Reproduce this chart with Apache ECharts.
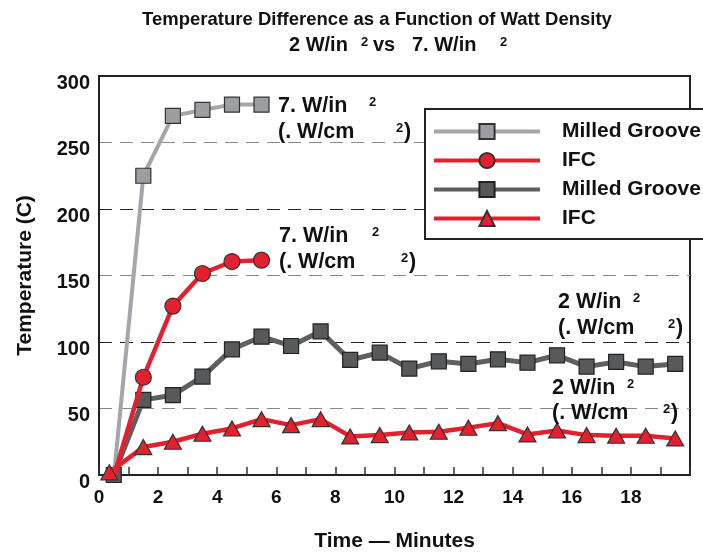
<!DOCTYPE html>
<html>
<head>
<meta charset="utf-8">
<script src="https://cdn.jsdelivr.net/npm/echarts@6/dist/echarts.min.js"></script>
<style>html,body{margin:0;padding:0;background:#fff;}#c{width:703px;height:553px;}</style>
</head>
<body>
<div id="c"></div>
<script>
// ---- data ----
var time7 = [0.5, 1.5, 2.5, 3.5, 4.5, 5.5];
var milled7 = [-2, 225, 270, 274.5, 278.5, 278.5];
var ifc7 = [-1, 73.5, 127, 151.5, 160.5, 161.5];
var time2 = [0.5, 1.5, 2.5, 3.5, 4.5, 5.5, 6.5, 7.5, 8.5, 9.5, 10.5, 11.5, 12.5, 13.5, 14.5, 15.5, 16.5, 17.5, 18.5, 19.5];
var timeIfc2 = [0.35, 1.5, 2.5, 3.5, 4.5, 5.5, 6.5, 7.5, 8.5, 9.5, 10.5, 11.5, 12.5, 13.5, 14.5, 15.5, 16.5, 17.5, 18.5, 19.5];
var milled2 = [0, 56.5, 60, 74, 94.5, 104, 97, 108, 86.5, 92, 80, 85.5, 83.5, 87, 84.5, 90, 81.5, 85, 81.5, 83.5];
var ifc2 = [2, 21, 25, 31, 35, 42, 37.5, 42, 29, 30, 32, 32.5, 35.5, 39, 30.5, 33.5, 30, 29.5, 29.5, 27.5];
var seriesNames = ['Milled Groove', 'IFC', 'Milled Groove ', 'IFC '];
var xTickLabels = [0, 2, 4, 6, 8, 10, 12, 14, 16, 18];
var titleText = 'Temperature Difference as a Function of Watt Density';
var subtitleParts = ['2 W/in', '2', 'vs', '7. W/in', '2'];
var annoLine1 = ['7. W/in', '7. W/in', '2 W/in', '2 W/in'];
var annoLine2 = '(. W/cm';

function pairs(xs, ys) { return xs.map(function (x, i) { return [x, ys[i]]; }); }

var FF = '"Liberation Sans", Arial, Helvetica, sans-serif';
function txt(x, y, text, size, align) {
  return { type: 'text', x: x, y: y, z: 100,
    style: { text: text, fill: '#111', fontSize: size, fontWeight: 'bold', fontFamily: FF,
      verticalAlign: 'middle', align: align || 'left' } };
}

var graphics = [
  txt(377, 20, titleText, 18.5, 'center'),
  txt(289, 45, subtitleParts[0], 20),
  txt(361, 42, subtitleParts[1], 13),
  txt(373, 45, subtitleParts[2], 20),
  txt(412, 45, subtitleParts[3], 20),
  txt(500, 42, subtitleParts[4], 13)
];
// annotation blocks: [left, line1 cy, sup x, line2 cy, sup2 x]
var annoPos = [
  [278, 106, 369, 132, 396],
  [279, 236, 372, 262, 401],
  [558, 302, 633, 328, 668],
  [552, 388, 627, 413, 663]
];
annoPos.forEach(function (p, i) {
  graphics.push(txt(p[0], p[1], annoLine1[i], 21.5));
  graphics.push(txt(p[2], p[1] - 4, '2', 13));
  graphics.push(txt(p[0], p[3], annoLine2, 21.5));
  graphics.push(txt(p[4], p[3] - 4, '2', 13));
  graphics.push(txt(p[4] + 8, p[3], ')', 21.5));
});

var RED = '#e5202e';
var chart = echarts.init(document.getElementById('c'), null, { renderer: 'canvas' });
chart.setOption({
  backgroundColor: '#fff',
  animation: false,
  textStyle: { fontFamily: FF },
  grid: { left: 99, top: 76, right: 13, bottom: 78, show: true, borderColor: '#222', borderWidth: 2,
    backgroundColor: 'transparent', containLabel: false, outerBoundsMode: 'none' },
  legend: {
    data: seriesNames,
    orient: 'vertical',
    left: 425, top: 109,
    padding: [12, 30, 10, 7],
    itemWidth: 106, itemHeight: 19, itemGap: 8,
    backgroundColor: '#fff',
    borderColor: '#222', borderWidth: 2,
    lineStyle: { width: 4 },
    formatter: function (n) { return n.trim(); },
    textStyle: { fontSize: 21, fontWeight: 'bold', color: '#111', fontFamily: FF, padding: [0, 0, 0, 17] }
  },
  xAxis: {
    type: 'value', min: 0, max: 20, interval: 1,
    name: 'Time \u2014 Minutes', nameLocation: 'middle', nameGap: 56,
    nameTextStyle: { fontSize: 21, fontWeight: 'bold', color: '#111', fontFamily: FF },
    axisLine: { show: true, lineStyle: { color: '#222', width: 2 } },
    axisTick: { show: true, inside: true, length: 8, lineStyle: { color: '#333', width: 1.5 } },
    splitLine: { show: false },
    axisLabel: { fontSize: 19, fontWeight: 'bold', color: '#111', margin: 13, fontFamily: FF,
      formatter: function (v) { return xTickLabels.indexOf(v) >= 0 ? String(v) : ''; } }
  },
  yAxis: {
    type: 'value', min: 0, max: 300, interval: 50,
    name: 'Temperature (C)', nameLocation: 'middle', nameGap: 63,
    nameTextStyle: { fontSize: 21, fontWeight: 'bold', color: '#111', fontFamily: FF },
    axisLine: { show: true, lineStyle: { color: '#222', width: 2 } },
    axisTick: { show: false },
    splitLine: { show: true, lineStyle: { color: ['#222', '#888'], width: 1.2, type: [13, 8] } },
    axisLabel: { fontSize: 20, fontWeight: 'bold', color: '#111', margin: 9, verticalAlign: 'top', lineHeight: 14, fontFamily: FF }
  },
  series: [
    { name: seriesNames[0], type: 'line', data: pairs(time7, milled7), symbol: 'rect', symbolSize: 15, z: 2,
      lineStyle: { color: '#a4a6a9', width: 4 }, itemStyle: { color: '#9c9ea1', borderColor: '#333', borderWidth: 1.2 } },
    { name: seriesNames[2], type: 'line', data: pairs(time2, milled2), symbol: 'rect', symbolSize: 15, z: 3,
      lineStyle: { color: '#5e5f61', width: 5 }, itemStyle: { color: '#58595b', borderColor: '#222', borderWidth: 1.2 } },
    { name: seriesNames[1], type: 'line', data: pairs(time7, ifc7), symbol: 'circle', symbolSize: 16, z: 4,
      lineStyle: { color: RED, width: 4.5 }, itemStyle: { color: RED, borderColor: '#333', borderWidth: 1.2 } },
    { name: seriesNames[3], type: 'line', data: pairs(timeIfc2, ifc2), symbol: 'triangle', symbolSize: [17, 15], z: 5,
      lineStyle: { color: RED, width: 4.5 }, itemStyle: { color: RED, borderColor: '#333', borderWidth: 1.2 } }
  ],
  graphic: graphics
});
</script>
</body>
</html>
